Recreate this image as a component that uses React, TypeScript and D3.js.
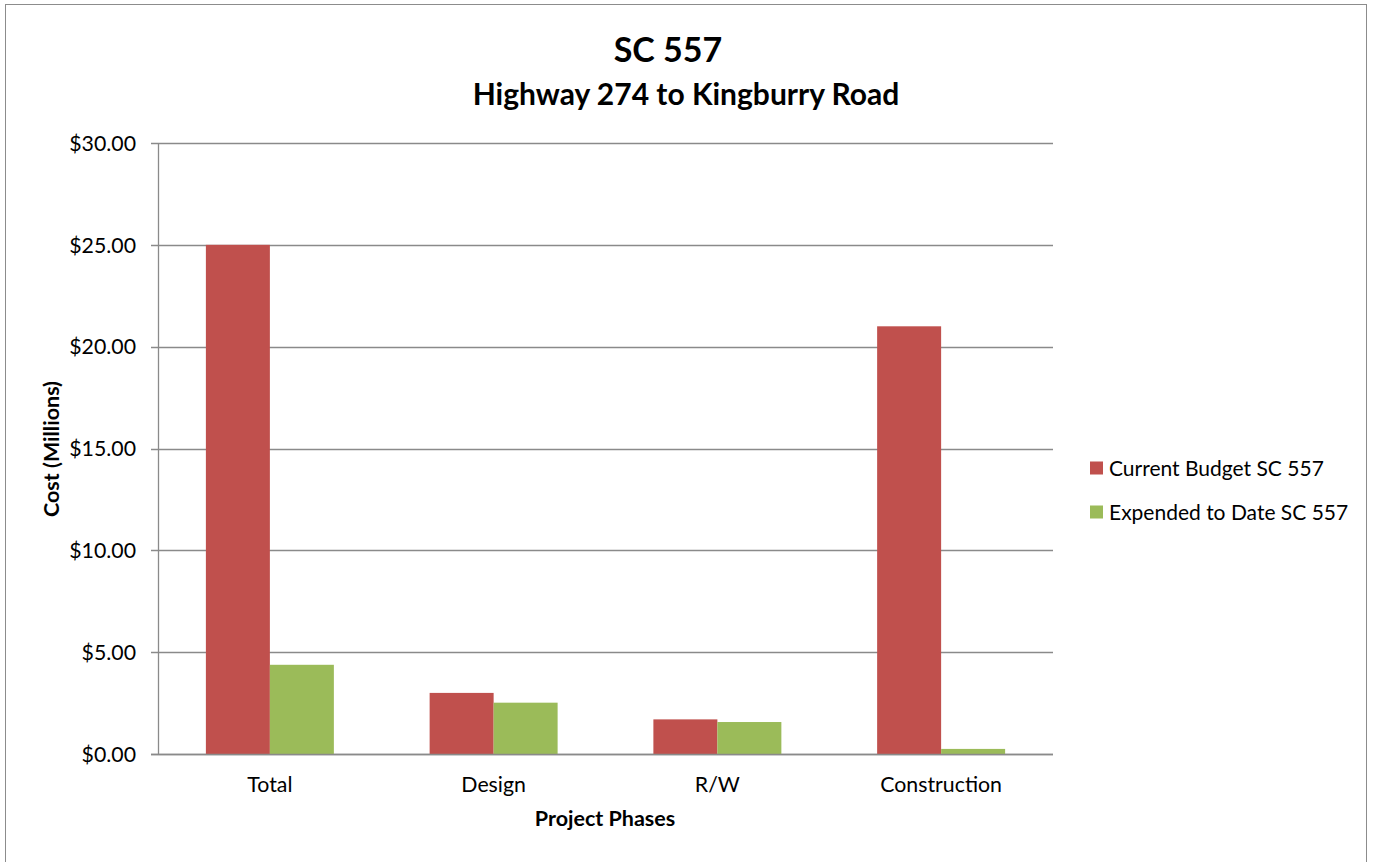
import React, { useEffect, useRef } from "react";
import * as d3 from "d3";

const categories = ["Total", "Design", "R/W", "Construction"];
const seriesNames = ["Current Budget SC 557", "Expended to Date SC 557"];
const budgetValues = [25.0, 3.0, 1.7, 21.0];
const expendedValues = [4.38, 2.52, 1.57, 0.25];
const yTicks = [0, 5, 10, 15, 20, 25, 30];
const seriesColors = ["#C0504D", "#9BBB59"];

const W = 1373;
const H = 862;
const FONT = "Lato, 'Open Sans', sans-serif";

export default function App() {
  const ref = useRef<SVGSVGElement | null>(null);

  useEffect(() => {
    const svg = d3.select(ref.current);
    svg.selectAll("*").remove();

    const left = 158, right = 1053, top = 143, bottom = 754;
    const y = d3.scaleLinear().domain([0, 30]).range([bottom, top]);
    const x = d3.scaleBand<string>().domain(categories).range([left, right]).paddingInner(0.428).paddingOuter(0.214);
    const xs = d3.scaleBand<number>().domain([0, 1]).range([0, x.bandwidth()]);

    svg.append("rect").attr("width", W).attr("height", H).attr("fill", "#fff");
    svg.append("rect").attr("x", 5.5).attr("y", 4.5).attr("width", 1361).attr("height", 880)
      .attr("fill", "none").attr("stroke", "#8c8c8c").attr("stroke-width", 1);

    // gridlines
    svg.append("g").selectAll("line").data(yTicks).join("line")
      .attr("x1", left - 7).attr("x2", right)
      .attr("y1", (d) => Math.round(y(d)) + 0.5).attr("y2", (d) => Math.round(y(d)) + 0.5)
      .attr("stroke", "#8a8a8a").attr("stroke-width", 1.3);

    // bars
    const data = categories.map((c, i) => ({ c, vals: [budgetValues[i], expendedValues[i]] }));
    const g = svg.append("g").selectAll("g").data(data).join("g")
      .attr("transform", (d) => `translate(${x(d.c)},0)`);
    g.selectAll("rect").data((d) => d.vals.map((v, k) => ({ v, k }))).join("rect")
      .attr("x", (d) => xs(d.k)!)
      .attr("width", xs.bandwidth())
      .attr("y", (d) => y(d.v))
      .attr("height", (d) => y(0) - y(d.v))
      .attr("fill", (d) => seriesColors[d.k]);

    // axes lines
    svg.append("line").attr("x1", left + 0.5).attr("x2", left + 0.5).attr("y1", top).attr("y2", bottom + 1)
      .attr("stroke", "#8a8a8a").attr("stroke-width", 1.3);
    svg.append("line").attr("x1", left - 7).attr("x2", right).attr("y1", bottom + 0.5).attr("y2", bottom + 0.5)
      .attr("stroke", "#8a8a8a").attr("stroke-width", 1.3);

    // y tick labels
    svg.append("g").selectAll("text").data(yTicks).join("text")
      .attr("x", 136).attr("y", (d) => y(d)).attr("dy", "0.36em")
      .attr("text-anchor", "end").attr("font-family", FONT).attr("font-size", 21.3).attr("fill", "#000")
      .text((d) => "$" + d3.format(".2f")(d));

    // x labels
    svg.append("g").selectAll("text").data(categories).join("text")
      .attr("x", (d) => x(d)! + x.bandwidth() / 2).attr("y", 792)
      .attr("text-anchor", "middle").attr("font-family", FONT).attr("font-size", 21.3).attr("fill", "#000")
      .text((d) => d);

    // titles
    svg.append("text").attr("x", 668).attr("y", 62).attr("text-anchor", "middle")
      .attr("font-family", FONT).attr("font-weight", "bold").attr("font-size", 34).text("SC 557");
    svg.append("text").attr("x", 686).attr("y", 105).attr("text-anchor", "middle")
      .attr("font-family", FONT).attr("font-weight", "bold").attr("font-size", 30).text("Highway 274 to Kingburry Road");

    svg.append("text").attr("x", 605).attr("y", 826).attr("text-anchor", "middle")
      .attr("font-family", FONT).attr("font-weight", "bold").attr("font-size", 21.5).text("Project Phases");
    svg.append("text").attr("transform", "translate(59,449) rotate(-90)").attr("text-anchor", "middle")
      .attr("font-family", FONT).attr("font-weight", "bold").attr("font-size", 21.5).text("Cost (Millions)");

    // legend
    const lg = svg.append("g").selectAll("g").data(seriesNames).join("g")
      .attr("transform", (d, i) => `translate(1090,${468 + i * 44})`);
    lg.append("rect").attr("x", 0).attr("y", -6.5).attr("width", 13).attr("height", 13)
      .attr("fill", (d, i) => seriesColors[i]);
    lg.append("text").attr("x", 19).attr("y", 0).attr("dy", "0.36em")
      .attr("font-family", FONT).attr("font-size", 21).text((d) => d);
  }, []);

  return (
    <svg ref={ref} width={W} height={H} style={{ position: "absolute", left: 0, top: 0, display: "block" }} />
  );
}
